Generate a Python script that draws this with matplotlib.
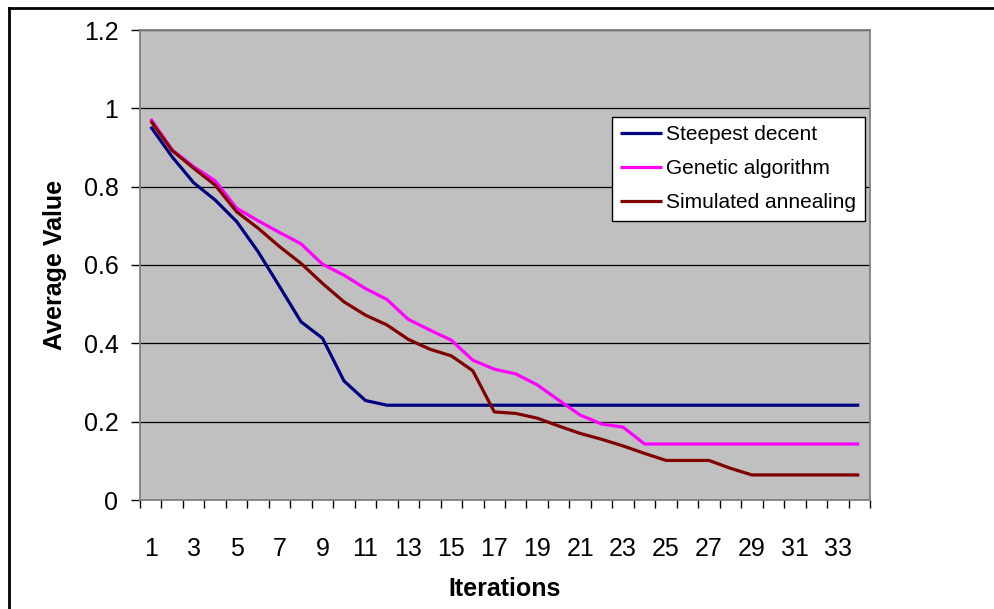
import numpy as np
import matplotlib
matplotlib.use('Agg')
import matplotlib.pyplot as plt
from matplotlib.lines import Line2D

plt.rcParams['font.family'] = ['Liberation Sans', 'DejaVu Sans']

iterations = list(range(1, 35))
steepest = [0.953, 0.876, 0.810, 0.766, 0.711, 0.634, 0.545, 0.455, 0.413, 0.304,
            0.254, 0.242] + [0.242] * 22
genetic = [0.973, 0.894, 0.851, 0.815, 0.745, 0.713, 0.683, 0.654, 0.602, 0.574,
           0.540, 0.512, 0.461, 0.434, 0.408, 0.357, 0.334, 0.322, 0.294, 0.255,
           0.217, 0.194, 0.186, 0.143] + [0.143] * 10
annealing = [0.968, 0.892, 0.847, 0.804, 0.736, 0.694, 0.647, 0.604, 0.553, 0.506,
             0.472, 0.447, 0.410, 0.385, 0.368, 0.330, 0.225, 0.221, 0.209, 0.189,
             0.170, 0.155, 0.138, 0.119, 0.101, 0.101, 0.101, 0.081, 0.064] + [0.064] * 5
labels = ['Steepest decent', 'Genetic algorithm', 'Simulated annealing']
colors = ['#000080', '#FF00FF', '#800000']

fig = plt.figure(figsize=(9.95, 6.09), dpi=100)
ax = fig.add_axes([140/995, 109/609, 730/995, 470/609])
ax.set_facecolor('#C0C0C0')

for ys, lab, c in zip([steepest, genetic, annealing], labels, colors):
    ax.plot(iterations, ys, color=c, lw=2.3, label=lab, solid_capstyle='butt')

ax.set_xlim(0.5, 34.5)
ax.set_ylim(0, 1.2)
ax.set_yticks(np.arange(0, 1.21, 0.2))
ax.set_yticklabels(['0', '0.2', '0.4', '0.6', '0.8', '1', '1.2'])
ax.set_xticks(range(1, 35, 2))
ax.set_xticks(np.arange(0.5, 35, 1), minor=True)
ax.tick_params(axis='x', which='major', length=0, pad=27, labelsize=18)
ax.tick_params(axis='x', which='minor', length=5.5, width=1, color='black', direction='out')
ax.tick_params(axis='y', length=6.5, width=1, color='black', pad=9, labelsize=18)
ax.grid(axis='y', color='black', lw=0.9)
ax.set_axisbelow(True)
for s in ax.spines.values():
    s.set_color('#808080')
    s.set_linewidth(1.3)

ax.set_xlabel('Iterations', fontsize=18, fontweight='bold', labelpad=11)
ax.set_ylabel('Average Value', fontsize=18, fontweight='bold', labelpad=12)

leg = ax.legend(loc='upper left', bbox_to_anchor=(472/730, 1 - 87/470), fontsize=15,
                frameon=True, fancybox=False, borderpad=0.4, labelspacing=0.72,
                handlelength=2.0, handletextpad=0.2, borderaxespad=0)
leg.get_frame().set_edgecolor('black')
leg.get_frame().set_linewidth(1.0)
leg.get_frame().set_facecolor('white')
leg.get_frame().set_alpha(1)

# outer chart border (left and top)
fig.add_artist(Line2D([9/995, 9/995], [0, 1 - 8/609], color='black', lw=2, transform=fig.transFigure))
fig.add_artist(Line2D([9/995, 1], [1 - 8/609, 1 - 8/609], color='black', lw=2, transform=fig.transFigure))

fig.savefig('out.png', dpi=100)
